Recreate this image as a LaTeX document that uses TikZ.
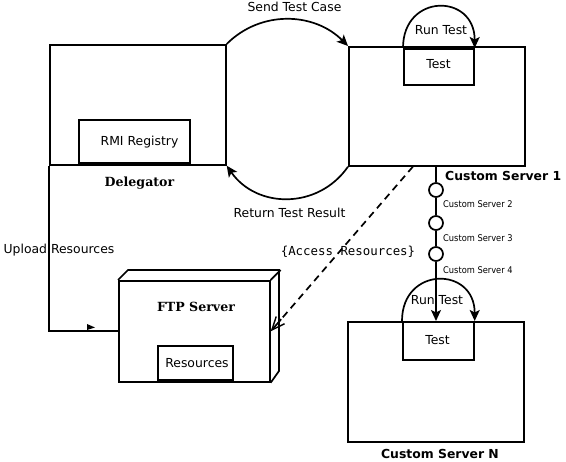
\documentclass[tikz,border=0pt]{standalone}
\usepackage{fontspec}
\setmainfont{DejaVu Sans}
\newfontfamily\serifbf{DejaVu Serif}
\newfontfamily\monof{DejaVu Sans Mono}
\newfontfamily\condf[FakeStretch=0.9]{DejaVu Sans}
\usetikzlibrary{arrows.meta,calc}
\begin{document}
\begin{tikzpicture}[x=1pt,y=-1pt,
  every node/.style={inner sep=0pt,font=\fontsize{12.4}{14}\selectfont},
  ln/.style={line width=1.7pt},
  box/.style={draw,ln},
  circ/.style={draw,ln,circle,minimum size=14pt},
  arr/.style={-{Stealth[length=11pt,width=10pt,inset=2.5pt]}},
  openarr/.style={-{Straight Barb[length=13pt,width=11pt,line width=1.4pt]}},
  dsh/.style={dash pattern=on 7pt off 5pt},
  serifl/.style={font=\fontsize{12.6}{14}\selectfont\serifbf\bfseries},
  boldl/.style={font=\fontsize{12.4}{14}\selectfont\bfseries},
  smalll/.style={font=\fontsize{9.2}{11}\selectfont\condf},
  monol/.style={font=\fontsize{12.4}{14}\selectfont\monof}]
\fill[white] (0,0) rectangle (566,462);
\useasboundingbox (0,0) rectangle (566,462);

% Delegator
\node[box,minimum width=176pt,minimum height=120pt,anchor=north west] (deleg) at (49,44) {};
\node[box,minimum width=111pt,minimum height=43pt,anchor=south west] (rmi) at (78,164) {};
\node (rmil) at (139.5,142) {RMI Registry};
\node[serifl] (delegl) at (139.5,183) {Delegator};

% Custom Server 1
\node[box,minimum width=176pt,minimum height=119pt,anchor=north west] (cs1) at (348,46) {};
\node[box,minimum width=70pt,minimum height=36pt,anchor=north west] (t1) at (403,48) {};
\node (t1l) at (438.5,64) {Test};
\draw[ln,arr] (t1.north west) .. controls +(0,-55) and +(0,-55) .. (t1.north east);
\node (rt1) at (441,30) {Run Test};
\node[boldl,anchor=west] (cs1l) at (445,175.5) {Custom Server 1};

% Send / Return
\draw[ln,arr] (deleg.north east) .. controls +(34,-34) and +(-34,-34) .. (cs1.north west);
\node (sendl) at (294.5,7) {Send Test Case};
\draw[ln,arr] (cs1.south west) .. controls +(-30,43) and +(30,43) .. (deleg.south east);
\node (retl) at (289.5,213) {Return Test Result};

% Chain
\node[circ] (c2) at (436,190) {};
\node[circ] (c3) at (436,223) {};
\node[circ] (c4) at (436,254) {};
\draw[ln] (c2.north |- cs1.south) -- (c2.north);
\draw[ln] (c2.south) -- (c3.north);
\draw[ln] (c3.south) -- (c4.north);
\node[smalll,anchor=west] (l2) at (443,204) {Custom Server 2};
\node[smalll,anchor=west] (l3) at (443,238) {Custom Server 3};
\node[smalll,anchor=west] (l4) at (443,270) {Custom Server 4};

% Custom Server N
\node[box,minimum width=176pt,minimum height=120pt,anchor=north west] (csn) at (347,321) {};
\node[box,minimum width=71pt,minimum height=38pt,anchor=north west] (tN) at (402,321) {};
\node (tNl) at (437.5,340) {Test};
\draw[ln,arr] (tN.north west) .. controls +(0,-55) and +(0,-55) .. (tN.north east);
\node (rtN) at (437,300) {Run Test};
\draw[ln,arr] (c4.south) -- (c4.south |- tN.north);
\node[boldl] (csnl) at (440,454) {Custom Server N};

% FTP Server
\node[box,minimum width=151pt,minimum height=101pt,anchor=north west] (ftp) at (118,280) {};
\draw[ln,line join=miter] (ftp.north west) -- ++(10,-10) -- ++(151,0) -- ++(0,101) -- (ftp.south east);
\draw[ln] (ftp.north east) -- ++(10,-10);
\node[box,minimum width=75pt,minimum height=34pt,anchor=south west] (res) at (157,381) {};
\node (resl) at (197,363.5) {Resources};
\node[serifl] (ftpl) at (196,307) {FTP Server};

% Upload
\draw[ln] (deleg.south west) |- (ftp.west);
\fill (87,324) -- (95,327.5) -- (87,330) -- cycle;
\node (upl) at (59,250) {Upload Resources};

% Access resources
\coordinate (dstart) at ([xshift=-24pt]cs1.south);
\coordinate (dend) at ($(ftp.east)!16pt!(dstart)$);
\draw[ln,dsh] (dstart) -- (dend);
\draw[ln,openarr] (dend) -- (ftp.east);
\node[monol] (accl) at (348,252) {\{Access Resources\}};
\end{tikzpicture}
\end{document}
